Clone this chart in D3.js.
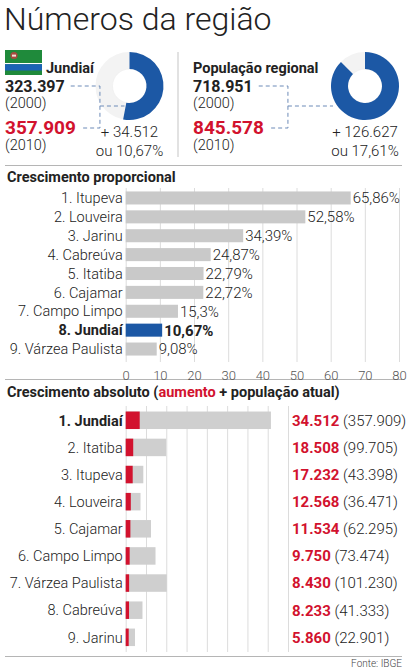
<!DOCTYPE html>
<html>
<head>
<meta charset="utf-8">
<script src="https://cdn.jsdelivr.net/npm/d3@7"></script>
<style>
  html, body { margin: 0; padding: 0; background: #fff; }
  svg { display: block; font-family: Roboto, sans-serif; }
</style>
</head>
<body>
<svg id="chart" width="407" height="669"></svg>
<script>
// Topo: Jundiaí e região
const resumoNomes = ["Jundiaí", "População regional"];
const resumo2000 = [323397, 718951];
const resumo2010 = [357909, 845578];
const resumoAumento = [34512, 126627];
const resumoPercentual = [10.67, 17.61];
const resumoFracaoRosca = [0.53, 0.875];

// Crescimento proporcional (%)
const propCategorias = ["1. Itupeva", "2. Louveira", "3. Jarinu", "4. Cabreúva", "5. Itatiba",
  "6. Cajamar", "7. Campo Limpo", "8. Jundiaí", "9. Várzea Paulista"];
const propValores = [65.86, 52.58, 34.39, 24.87, 22.79, 22.72, 15.3, 10.67, 9.08];
const propTicks = [0, 10, 20, 30, 40, 50, 60, 70, 80];

// Crescimento absoluto (aumento + população atual)
const absCategorias = ["1. Jundiaí", "2. Itatiba", "3. Itupeva", "4. Louveira", "5. Cajamar",
  "6. Campo Limpo", "7. Várzea Paulista", "8. Cabreúva", "9. Jarinu"];
const absAumento = [34512, 18508, 17232, 12568, 11534, 9750, 8430, 8233, 5860];
const absPopulacao = [357909, 99705, 43398, 36471, 62295, 73474, 101230, 41333, 22901];
const absTicks = [0, 50000, 100000, 150000, 200000, 250000, 300000, 350000, 400000];

const destaque = "Jundiaí";
const VERMELHO = "#d2122e";
const AZUL = "#1c58a5";
const CINZA = "#c9c9c9";
const TEXTO = "#222";

const br = d3.formatLocale({ decimal: ",", thousands: ".", grouping: [3], currency: ["R$", ""] });
const milhar = br.format(",d");
const pct = (v) => String(v).replace(".", ",") + "%";

const svg = d3.select("#chart");

// Título
svg.append("text")
  .attr("x", 4).attr("y", 30)
  .attr("font-size", "32px").attr("font-weight", 300).attr("fill", TEXTO)
  .text("Números da região");

// ---------- Bloco de resumo ----------
function bloco(i, x0, cx) {
  const g = svg.append("g");
  const nomeX = i === 0 ? x0 + 41 : x0;
  g.append("text").attr("x", nomeX).attr("y", 73)
    .attr("font-size", "14.5px").attr("font-weight", 700).attr("fill", TEXTO)
    .text(resumoNomes[i]);
  const t2000 = g.append("text").attr("x", x0).attr("y", 92)
    .attr("font-size", "16px").attr("font-weight", 700).attr("fill", TEXTO)
    .text(milhar(resumo2000[i]));
  g.append("text").attr("x", x0).attr("y", 108)
    .attr("font-size", "14.5px").attr("font-weight", 300).attr("fill", TEXTO)
    .text("(2000)");
  const t2010 = g.append("text").attr("x", x0).attr("y", 133.5)
    .attr("font-size", "19px").attr("font-weight", 700).attr("fill", VERMELHO)
    .text(milhar(resumo2010[i]));
  g.append("text").attr("x", x0).attr("y", 150)
    .attr("font-size", "14.5px").attr("font-weight", 300).attr("fill", TEXTO)
    .text("(2010)");

  // rosca
  const cy = 86;
  const arco = d3.arc().innerRadius(17).outerRadius(34);
  const pie = d3.pie().sort(null).value((d) => d);
  const fr = resumoFracaoRosca[i];
  g.append("circle").attr("cx", cx).attr("cy", cy).attr("r", 25.5)
    .attr("fill", "none").attr("stroke", "#f3f3f3").attr("stroke-width", 17);
  g.append("circle").attr("cx", cx).attr("cy", cy).attr("r", 17)
    .attr("fill", "none").attr("stroke", "#ececec").attr("stroke-width", 0.6);
  g.append("g").attr("transform", `translate(${cx},${cy})`)
    .selectAll("path").data(pie([fr, 1 - fr]).slice(0, 1)).join("path")
    .attr("d", arco).attr("fill", AZUL);

  g.append("text").attr("x", cx).attr("y", 137).attr("text-anchor", "middle")
    .attr("font-size", "15px").attr("font-weight", 300).attr("fill", TEXTO)
    .text("+ " + milhar(resumoAumento[i]));
  g.append("text").attr("x", cx).attr("y", 156).attr("text-anchor", "middle")
    .attr("font-size", "15px").attr("font-weight", 300).attr("fill", TEXTO)
    .text("ou " + pct(resumoPercentual[i]));

  // conectores tracejados
  const w2000 = t2000.node().getComputedTextLength();
  const w2010 = t2010.node().getComputedTextLength();
  const vx = x0 + Math.max(w2000, w2010) + 24;
  const fimX = cx - (i === 0 ? 5 : 32);
  const tracejado = (d) => g.append("path").attr("d", d).attr("fill", "none")
    .attr("stroke", "#6d8bb8").attr("stroke-width", 1).attr("stroke-dasharray", "4,3");
  tracejado(`M${x0 + w2000 + 6},86H${vx}V128H${x0 + w2010 + 5}`);
  tracejado(`M${vx},106H${fimX}`);
}

// bandeira de Jundiaí
const flag = svg.append("g").attr("transform", "translate(5,50)");
flag.append("rect").attr("width", 37).attr("height", 25).attr("fill", "#1f8a3b");
flag.append("rect").attr("y", 13).attr("width", 37).attr("height", 1.2).attr("fill", "#fff");
flag.append("rect").attr("y", 14.2).attr("width", 37).attr("height", 6.3).attr("fill", "#1b63b5");
flag.append("circle").attr("cx", 9).attr("cy", 5.5).attr("r", 3.6).attr("fill", "#a64a3f");
flag.append("rect").attr("x", 7).attr("y", 4.6).attr("width", 4).attr("height", 2).attr("fill", "#f1e2d8");

bloco(0, 5, 129.5);
bloco(1, 193, 365);

svg.append("line").attr("x1", 178).attr("x2", 178).attr("y1", 52).attr("y2", 157)
  .attr("stroke", "#cfcfcf").attr("stroke-width", 1.2);

const separador = (y) => svg.append("line").attr("x1", 5).attr("x2", 402)
  .attr("y1", y).attr("y2", y).attr("stroke", "#b5b5b5").attr("stroke-width", 1);
separador(165.5);
separador(379.5);
separador(656.5);

// ---------- Crescimento proporcional ----------
svg.append("text").attr("x", 7).attr("y", 182)
  .attr("font-size", "14.5px").attr("font-weight", 700).attr("fill", TEXTO)
  .text("Crescimento proporcional");

const xp = d3.scaleLinear().domain([0, 80]).range([125.7, 399]);
const yp = d3.scaleBand().domain(propCategorias).range([185.6, 361.4]).padding(0.31);

svg.append("g")
  .attr("transform", "translate(0,362)")
  .call(d3.axisBottom(xp).tickValues(propTicks).tickSize(-174).tickPadding(9))
  .call((sel) => sel.select(".domain").remove())
  .call((sel) => sel.selectAll("line").attr("stroke", "#dcdcdc"))
  .call((sel) => sel.selectAll("text").attr("fill", "#555").attr("font-size", "13px")
    .attr("font-weight", 300).attr("font-family", "Roboto, sans-serif"));

const dadosProp = propCategorias.map((c, i) => ({ c, v: propValores[i], j: c.includes(destaque) }));

svg.append("g").selectAll("rect").data(dadosProp).join("rect")
  .attr("x", xp(0)).attr("y", (d) => yp(d.c))
  .attr("width", (d) => xp(d.v) - xp(0)).attr("height", yp.bandwidth())
  .attr("fill", (d) => (d.j ? AZUL : CINZA));

svg.append("g").selectAll("text").data(dadosProp).join("text")
  .attr("x", xp(0) - 3).attr("y", (d) => yp(d.c) + yp.bandwidth() / 2).attr("dy", "0.36em")
  .attr("text-anchor", "end").attr("font-size", "14.5px")
  .attr("font-weight", (d) => (d.j ? 700 : 300)).attr("fill", TEXTO)
  .text((d) => d.c);

svg.append("g").selectAll("text").data(dadosProp).join("text")
  .attr("x", (d) => xp(d.v) + 2).attr("y", (d) => yp(d.c) + yp.bandwidth() / 2).attr("dy", "0.36em")
  .attr("font-size", "15px")
  .attr("font-weight", (d) => (d.j ? 700 : 300)).attr("fill", TEXTO)
  .text((d) => pct(d.v));

// ---------- Crescimento absoluto ----------
const tituloAbs = svg.append("text").attr("x", 7).attr("y", 397)
  .attr("font-size", "14.5px").attr("font-weight", 700).attr("fill", TEXTO);
tituloAbs.append("tspan").text("Crescimento absoluto (");
tituloAbs.append("tspan").attr("fill", VERMELHO).text("aumento");
tituloAbs.append("tspan").text(" + população atual)");

const xa = d3.scaleLinear().domain([0, 400000]).range([125.7, 288]);
const ya = d3.scaleBand().domain(absCategorias).range([401.9, 655.7]).padding(0.355);

svg.append("g")
  .attr("transform", "translate(0,652)")
  .call(d3.axisBottom(xa).tickValues(absTicks).tickSize(-246).tickFormat(""))
  .call((sel) => sel.select(".domain").remove())
  .call((sel) => sel.selectAll("line").attr("stroke", "#dcdcdc"));

const dadosAbs = absCategorias.map((c, i) => ({
  c, aumento: absAumento[i], pop: absPopulacao[i], j: c.includes(destaque)
}));

const linhas = svg.append("g").selectAll("g").data(dadosAbs).join("g");
linhas.append("rect")
  .attr("x", xa(0)).attr("y", (d) => ya(d.c))
  .attr("width", (d) => xa(d.pop) - xa(0)).attr("height", ya.bandwidth())
  .attr("fill", "#cfcfcf");
linhas.append("rect")
  .attr("x", xa(0)).attr("y", (d) => ya(d.c))
  .attr("width", (d) => Math.max(3, xa(d.aumento) - xa(0))).attr("height", ya.bandwidth())
  .attr("fill", VERMELHO);
linhas.append("text")
  .attr("x", xa(0) - 3).attr("y", (d) => ya(d.c) + ya.bandwidth() / 2).attr("dy", "0.36em")
  .attr("text-anchor", "end").attr("font-size", "14.5px")
  .attr("font-weight", (d) => (d.j ? 700 : 300)).attr("fill", TEXTO)
  .text((d) => d.c);
const rotulo = linhas.append("text")
  .attr("x", 292).attr("y", (d) => ya(d.c) + ya.bandwidth() / 2).attr("dy", "0.36em")
  .attr("font-size", "15px");
rotulo.append("tspan").attr("font-weight", 700).attr("fill", VERMELHO)
  .text((d) => milhar(d.aumento));
rotulo.append("tspan").attr("font-weight", 300).attr("fill", TEXTO)
  .text((d) => " (" + milhar(d.pop) + ")");

svg.append("text").attr("x", 402).attr("y", 667).attr("text-anchor", "end")
  .attr("font-size", "10px").attr("font-weight", 300).attr("fill", "#444")
  .text("Fonte: IBGE");
</script>
</body>
</html>
